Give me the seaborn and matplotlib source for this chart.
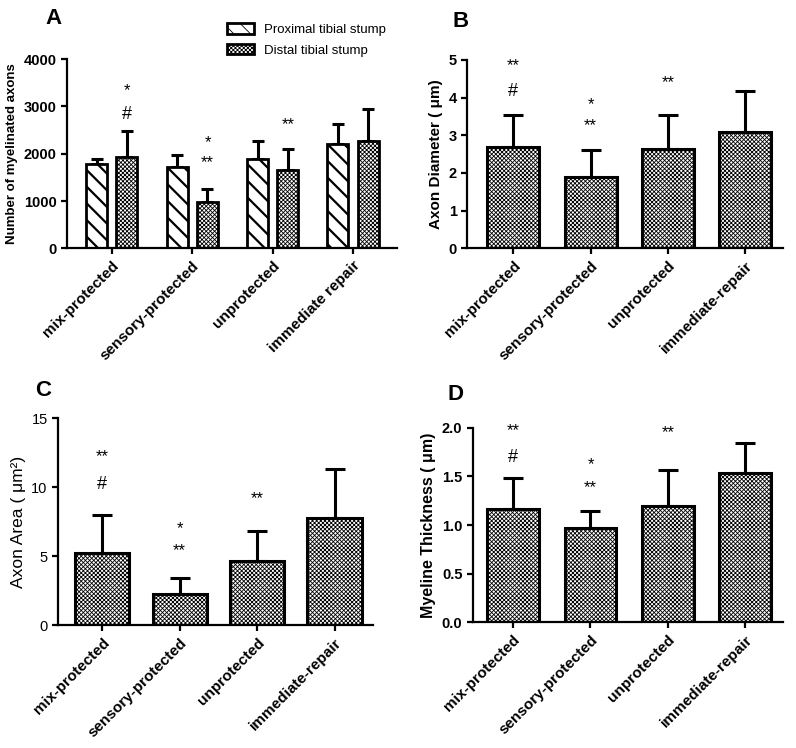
import matplotlib
matplotlib.use("Agg")
import matplotlib.pyplot as plt
import seaborn as sns
import pandas as pd
from matplotlib.patches import Patch

# --- data ---
groups_a = ["mix-protected", "sensory-protected", "unprotected", "immediate repair"]
groups = ["mix-protected", "sensory-protected", "unprotected", "immediate-repair"]
stumps = ["Proximal tibial stump", "Distal tibial stump"]

prox_axons = [1780, 1720, 1880, 2200]
prox_axons_sd = [110, 250, 380, 420]
dist_axons = [1930, 980, 1660, 2260]
dist_axons_sd = [540, 270, 430, 690]

diameter = [2.70, 1.90, 2.63, 3.08]
diameter_sd = [0.83, 0.72, 0.92, 1.09]

area = [5.25, 2.30, 4.65, 7.75]
area_sd = [2.75, 1.15, 2.15, 3.55]

thickness = [1.17, 0.97, 1.20, 1.54]
thickness_sd = [0.31, 0.17, 0.37, 0.30]

# significance marks (text, group index, y)
marks_a = [("*", 0, 3340), ("#", 0, 2820), ("*", 1, 2240), ("**", 1, 1820), ("**", 2, 2620)]
marks_b = [("**", 0, 4.85), ("#", 0, 4.15), ("*", 1, 3.80), ("**", 1, 3.25), ("**", 2, 4.40)]
marks_c = [("**", 0, 12.2), ("#", 0, 10.2), ("*", 1, 7.0), ("**", 1, 5.4), ("**", 2, 9.2)]
marks_d = [("**", 0, 1.97), ("#", 0, 1.70), ("*", 1, 1.62), ("**", 1, 1.39), ("**", 2, 1.95)]

sns.set_style("ticks")
plt.rcParams["font.family"] = ["Liberation Sans", "DejaVu Sans"]
plt.rcParams["hatch.linewidth"] = 0.6
for key in ["text.color", "axes.labelcolor", "xtick.color", "ytick.color", "axes.edgecolor"]:
    plt.rcParams[key] = "black"

CHECK = "xxxxxxxx"
DIAG = "\\\\"

fig = plt.figure(figsize=(7.96, 7.48), dpi=100)


def thick_hatch(patch, lw=1.6):
    # per-patch hatch width (matplotlib >= 3.10)
    if hasattr(patch, "set_hatch_linewidth"):
        patch.set_hatch_linewidth(lw)


def style_axes(ax, ylim, yticks, ylabel, ylabel_size, xlim, tick_bold=True, label_bold=True):
    ax.set_ylim(*ylim)
    ax.set_yticks(yticks)
    ax.set_xlim(*xlim)
    ax.set_xlabel("")
    ax.set_ylabel(ylabel, fontsize=ylabel_size, fontweight="bold" if label_bold else "normal")
    for s in ["top", "right"]:
        ax.spines[s].set_visible(False)
    for s in ["left", "bottom"]:
        ax.spines[s].set_linewidth(1.6)
    ax.tick_params(axis="both", width=1.6, length=4, direction="out")
    w = "bold" if tick_bold else "normal"
    for t in ax.get_yticklabels():
        t.set_fontsize(10.5)
        t.set_fontweight(w)
    for t in ax.get_xticklabels():
        t.set_rotation(45)
        t.set_ha("right")
        t.set_rotation_mode("anchor")
        t.set_fontsize(11)
        t.set_fontweight("bold")


def add_errors(ax, container, means, sds, capsize):
    xs = [b.get_x() + b.get_width() / 2 for b in container]
    ax.errorbar(xs, means, yerr=[[0] * len(sds), sds], fmt="none", ecolor="black",
                elinewidth=2.2, capsize=capsize, capthick=2.2, zorder=1)


def add_marks(ax, marks, offset=0.0):
    for txt, i, y in marks:
        size = 13 if txt == "#" else 12
        ax.text(i + offset, y, txt, ha="center", va="center", fontsize=size)


# --- A: myelinated axons, grouped ---
df_a = pd.DataFrame({
    "group": groups_a * 2,
    "stump": [stumps[0]] * 4 + [stumps[1]] * 4,
    "count": prox_axons + dist_axons,
})
ax_a = fig.add_axes([0.084, 0.668, 0.415, 0.253])
sns.barplot(data=df_a, x="group", y="count", hue="stump", order=groups_a, hue_order=stumps,
            errorbar=None, width=0.75, gap=0.3, legend=False, ax=ax_a)
for cont, hatch in zip(ax_a.containers, [DIAG, CHECK]):
    for b in cont:
        b.set_facecolor("white")
        b.set_edgecolor("black")
        b.set_linewidth(2)
        b.set_hatch(hatch)
        b.set_zorder(2)
        if hatch == DIAG:
            thick_hatch(b)
add_errors(ax_a, ax_a.containers[0], prox_axons, prox_axons_sd, 4)
add_errors(ax_a, ax_a.containers[1], dist_axons, dist_axons_sd, 4)
add_marks(ax_a, marks_a, offset=0.19)
style_axes(ax_a, (0, 4000), [0, 1000, 2000, 3000, 4000], "Number of myelinated axons", 9.5,
           (-0.56, 3.55))
handles = [Patch(facecolor="white", edgecolor="black", linewidth=2, hatch=DIAG),
           Patch(facecolor="white", edgecolor="black", linewidth=2, hatch=CHECK)]
thick_hatch(handles[0])
ax_a.legend(handles, stumps, loc="lower left", bbox_to_anchor=(0.45, 0.95), frameon=False,
            fontsize=9.5, handlelength=2.0, handleheight=0.8, labelspacing=0.6,
            handletextpad=0.8)


def single_panel(rect, means, sds, marks, ylim, yticks, ylabel, ylabel_size, xlim, width,
                 tick_bold=True, label_bold=True):
    ax = fig.add_axes(rect)
    sns.barplot(x=groups, y=means, order=groups, errorbar=None, width=width,
                color="white", ax=ax)
    for b in ax.containers[0]:
        b.set_facecolor("white")
        b.set_edgecolor("black")
        b.set_linewidth(2.2)
        b.set_hatch(CHECK)
        b.set_zorder(2)
    add_errors(ax, ax.containers[0], means, sds, 7)
    add_marks(ax, marks)
    style_axes(ax, ylim, yticks, ylabel, ylabel_size, xlim, tick_bold, label_bold)
    return ax


ax_b = single_panel([0.587, 0.668, 0.397, 0.252], diameter, diameter_sd, marks_b,
                    (0, 5), [0, 1, 2, 3, 4, 5], "Axon Diameter ( μm)", 11, (-0.595, 3.49), 0.67)
ax_c = single_panel([0.073, 0.164, 0.396, 0.277], area, area_sd, marks_c,
                    (0, 15), [0, 5, 10, 15], "Axon Area ( μm²)", 12.5, (-0.57, 3.5), 0.70,
                    tick_bold=False, label_bold=False)
ax_d = single_panel([0.594, 0.168, 0.390, 0.260], thickness, thickness_sd, marks_d,
                    (0, 2.0), [0.0, 0.5, 1.0, 1.5, 2.0], "Myeline Thickness ( μm)", 11.5,
                    (-0.52, 3.49), 0.67)
ax_d.set_yticklabels(["0.0", "0.5", "1.0", "1.5", "2.0"], fontsize=10.5, fontweight="bold")

# panel letters
for letter, x, y in [("A", 0.057, 0.975), ("B", 0.568, 0.971), ("C", 0.044, 0.478), ("D", 0.562, 0.472)]:
    fig.text(x, y, letter, fontsize=16, fontweight="bold", ha="left", va="center")

fig.savefig("out.png", dpi=100)
